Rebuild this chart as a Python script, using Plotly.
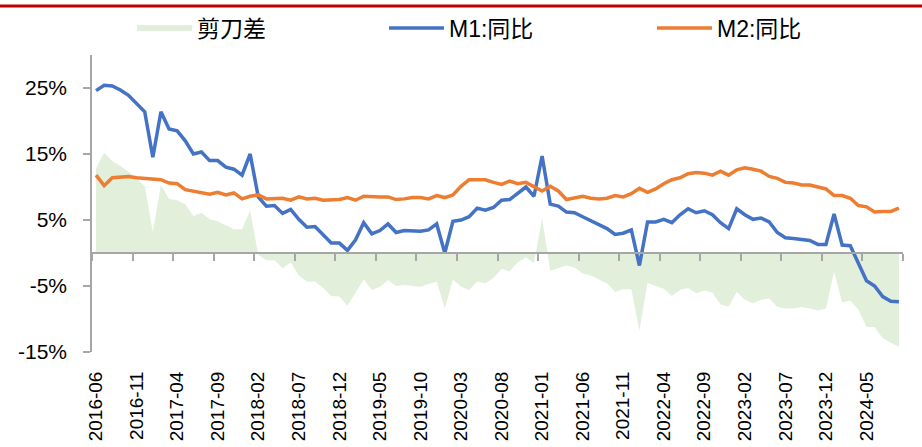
"""M1 / M2 year-on-year growth with the scissors spread (M1 - M2)."""

import plotly.graph_objects as go

# Monthly data, 2016-06 .. 2024-09 (%)
m1_yoy = [
    24.6, 25.4, 25.3, 24.7, 23.9, 22.7, 21.4,
    14.5, 21.4, 18.8, 18.5, 17.0, 15.0, 15.3, 14.0, 14.0, 13.0, 12.7, 11.8,
    15.0, 8.5, 7.1, 7.2, 6.0, 6.6, 5.1, 3.9, 4.0, 2.7, 1.5, 1.5,
    0.4, 2.0, 4.6, 2.9, 3.4, 4.4, 3.1, 3.4, 3.4, 3.3, 3.5, 4.4,
    0.0, 4.8, 5.0, 5.5, 6.8, 6.5, 6.9, 8.0, 8.1, 9.1, 10.0, 8.6,
    14.7, 7.4, 7.1, 6.2, 6.1, 5.5, 4.9, 4.2, 3.7, 2.8, 3.0, 3.5,
    -1.9, 4.7, 4.7, 5.1, 4.6, 5.8, 6.7, 6.1, 6.4, 5.8, 4.6, 3.7,
    6.7, 5.8, 5.1, 5.3, 4.7, 3.1, 2.3, 2.2, 2.1, 1.9, 1.3, 1.3,
    5.9, 1.2, 1.1, -1.4, -4.2, -5.0, -6.6, -7.3, -7.4,
]
m2_yoy = [
    11.8, 10.2, 11.4, 11.5, 11.6, 11.4, 11.3,
    11.3, 11.1, 10.6, 10.5, 9.6, 9.4, 9.2, 8.9, 9.2, 8.8, 9.1, 8.2,
    8.6, 8.8, 8.2, 8.3, 8.3, 8.0, 8.5, 8.2, 8.3, 8.0, 8.0, 8.1,
    8.4, 8.0, 8.6, 8.5, 8.5, 8.5, 8.1, 8.2, 8.4, 8.4, 8.2, 8.7,
    8.4, 8.8, 10.1, 11.1, 11.1, 11.1, 10.7, 10.4, 10.9, 10.5, 10.7, 10.1,
    9.4, 10.1, 9.4, 8.1, 8.3, 8.6, 8.3, 8.2, 8.3, 8.7, 8.5, 9.0,
    9.8, 9.2, 9.7, 10.5, 11.1, 11.4, 12.0, 12.2, 12.1, 11.8, 12.4, 11.8,
    12.6, 12.9, 12.7, 12.4, 11.6, 11.3, 10.7, 10.6, 10.3, 10.3, 10.0, 9.7,
    8.7, 8.7, 8.3, 7.2, 7.0, 6.2, 6.3, 6.3, 6.8,
]
scissors = [
    12.8, 15.2, 13.9, 13.2, 12.3, 11.3, 10.1,
    3.2, 10.3, 8.2, 8.0, 7.4, 5.6, 6.1, 5.1, 4.8, 4.2, 3.6, 3.6,
    6.4, -0.3, -1.1, -1.1, -2.3, -1.4, -3.4, -4.3, -4.3, -5.3, -6.5, -6.6,
    -8.0, -6.0, -4.0, -5.6, -5.1, -4.1, -5.0, -4.8, -5.0, -5.1, -4.7, -4.3,
    -8.4, -4.0, -5.1, -5.6, -4.3, -4.6, -3.8, -2.4, -2.8, -1.4, -0.7, -1.5,
    5.3, -2.7, -2.3, -1.9, -2.2, -3.1, -3.4, -4.0, -4.6, -5.9, -5.5, -5.5,
    -11.7, -4.5, -5.0, -5.4, -6.5, -5.6, -5.3, -6.1, -5.7, -6.0, -7.8, -8.1,
    -5.9, -7.1, -7.6, -7.1, -6.9, -8.2, -8.4, -8.4, -8.2, -8.4, -8.7, -8.4,
    -2.8, -7.5, -7.2, -8.6, -11.2, -11.2, -12.9, -13.6, -14.2,
]
tick_labels = [
    "2016-06", "2016-11", "2017-04", "2017-09", "2018-02", "2018-07",
    "2018-12", "2019-05", "2019-10", "2020-03", "2020-08", "2021-01",
    "2021-06", "2021-11", "2022-04", "2022-09", "2023-02", "2023-07",
    "2023-12", "2024-05",
]
y_ticks = [-15, -5, 5, 15, 25]

n = len(m1_yoy)
idx = list(range(n))
label_pos = idx[::5]
boundaries = [i - 0.5 for i in range(0, n + 1, 5)]

FONT = "Liberation Sans, Noto Sans CJK SC, sans-serif"
AXIS_GREY = "#A6A6A6"
PLOT_L, PLOT_W = 92, 811  # plot area left edge / width in px

fig = go.Figure()

# Scissors spread as a filled area (base axis, under the lines)
fig.add_trace(
    go.Scatter(
        x=idx,
        y=scissors,
        name="剪刀差",
        mode="none",
        fill="tozeroy",
        fillcolor="#E2EFDA",
        xaxis="x",
        yaxis="y",
        legend="legend",
    )
)
fig.add_trace(
    go.Scatter(
        x=idx,
        y=m1_yoy,
        name="M1:同比",
        mode="lines",
        line=dict(color="#4472C4", width=3.5),
        xaxis="x2",
        yaxis="y",
        legend="legend2",
    )
)
fig.add_trace(
    go.Scatter(
        x=idx,
        y=m2_yoy,
        name="M2:同比",
        mode="lines",
        line=dict(color="#ED7D31", width=3.5),
        xaxis="x2",
        yaxis="y",
        legend="legend3",
    )
)

x_range = [-0.5, n - 0.5]
y_range = [-15, 30]


def legend_at(px):
    return dict(
        x=(px - PLOT_L) / PLOT_W,
        xanchor="left",
        y=1.091,
        yanchor="middle",
        itemwidth=55,
        font=dict(family=FONT, size=23),
        bgcolor="rgba(0,0,0,0)",
    )


fig.update_layout(
    width=922,
    height=447,
    margin=dict(l=92, r=19, t=55, b=95, autoexpand=False),
    paper_bgcolor="white",
    plot_bgcolor="white",
    font=dict(family=FONT, size=20, color="#000000"),
    showlegend=True,
    legend=legend_at(132),
    legend2=legend_at(384),
    legend3=legend_at(652),
    xaxis=dict(
        range=x_range,
        tickmode="array",
        tickvals=label_pos,
        ticktext=tick_labels,
        tickangle=-90,
        ticks="outside",
        ticklen=11,
        tickcolor="rgba(0,0,0,0)",
        showline=False,
        showgrid=False,
        zeroline=False,
        automargin=False,
        tickfont=dict(size=19),
    ),
    xaxis2=dict(
        range=x_range,
        overlaying="x",
        anchor="free",
        position=(0 - y_range[0]) / (y_range[1] - y_range[0]),
        side="bottom",
        tickmode="array",
        tickvals=boundaries,
        showticklabels=False,
        ticks="outside",
        ticklen=7,
        tickwidth=1.5,
        tickcolor=AXIS_GREY,
        showline=True,
        linecolor=AXIS_GREY,
        linewidth=1.5,
        showgrid=False,
        zeroline=False,
        automargin=False,
        layer="above traces",
    ),
    yaxis=dict(
        range=y_range,
        tickmode="array",
        tickvals=y_ticks,
        ticktext=[f"{v}%" for v in y_ticks],
        ticks="outside",
        ticklen=7,
        tickwidth=1.5,
        tickcolor=AXIS_GREY,
        showline=True,
        linecolor=AXIS_GREY,
        linewidth=1.5,
        showgrid=False,
        zeroline=False,
        automargin=False,
        ticklabelstandoff=12,
        tickfont=dict(size=21),
    ),
)

# Red rule across the top of the page
fig.add_shape(
    type="line",
    xref="paper",
    yref="paper",
    x0=-PLOT_L / PLOT_W,
    x1=(922 - PLOT_L) / PLOT_W,
    y0=1.165,
    y1=1.165,
    line=dict(color="#C00000", width=3),
)

# drop the default 8px body margin so the figure sits at the page origin
fig.write_html(
    "out.html",
    config={"displayModeBar": False},
    post_script="document.body.style.margin='0';",
)
